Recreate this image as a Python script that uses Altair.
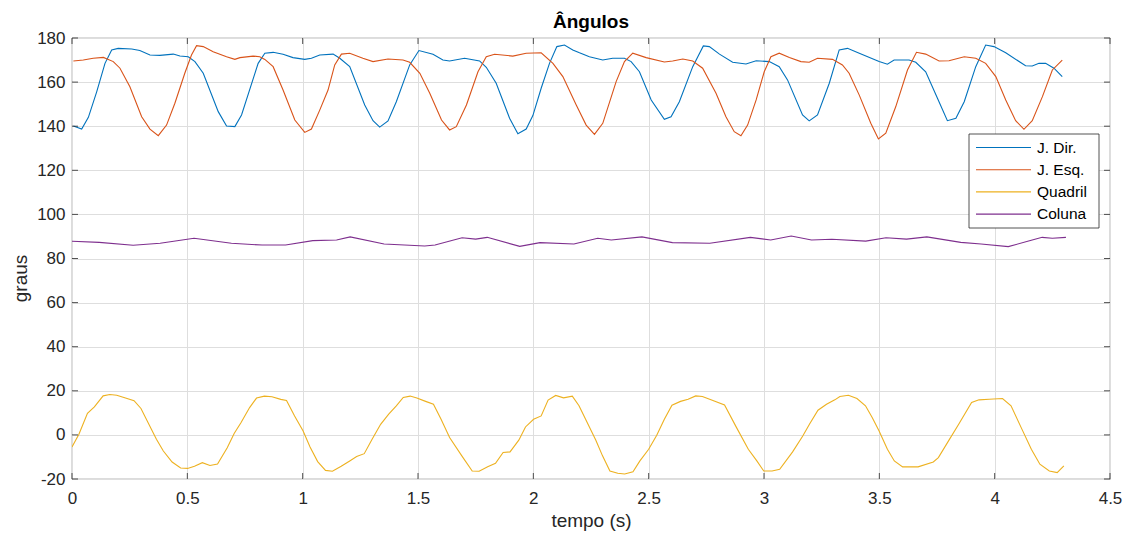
import altair as alt
import pandas as pd

series_names = ["J. Dir.", "J. Esq.", "Quadril", "Coluna"]
series_colors = ["#0072BD", "#D95319", "#EDB120", "#7E2F8E"]

t_dir = [0.006, 0.042, 0.071, 0.107, 0.143, 0.172, 0.2, 0.259, 0.294, 0.338,
         0.381, 0.439, 0.468, 0.504, 0.533, 0.569, 0.634, 0.670, 0.706, 0.735,
         0.807, 0.836, 0.872, 0.915, 0.958, 1.009, 1.038, 1.074, 1.132, 1.161,
         1.204, 1.269, 1.305, 1.334, 1.370, 1.406, 1.464, 1.504, 1.565, 1.608,
         1.637, 1.702, 1.767, 1.796, 1.839, 1.897, 1.933, 1.969, 1.998, 2.034,
         2.070, 2.102, 2.135, 2.171, 2.200, 2.243, 2.301, 2.344, 2.395, 2.424,
         2.460, 2.511, 2.568, 2.597, 2.633, 2.691, 2.737, 2.763, 2.807, 2.864,
         2.922, 2.966, 3.023, 3.066, 3.102, 3.167, 3.196, 3.232, 3.283, 3.326,
         3.362, 3.413, 3.499, 3.535, 3.564, 3.629, 3.658, 3.701, 3.752, 3.795,
         3.832, 3.868, 3.918, 3.961, 3.997, 4.048, 4.134, 4.163, 4.192, 4.221,
         4.257, 4.293]
v_dir = [140.1, 138.7, 144, 155.6, 168.5, 174.6, 175.3, 175, 174.3, 172.3,
         172.1, 172.7, 171.8, 171.5, 169.3, 164, 146.6, 140.1, 139.8, 145.1,
         168.5, 173.1, 173.5, 172.6, 171.1, 170.3, 170.8, 172.3, 172.7, 170.8,
         167, 149.6, 142.5, 139.6, 142.4, 151.1, 167.8, 174.3, 172.6, 170,
         169.6, 170.8, 169.6, 166.7, 159.5, 143.6, 136.6, 138.7, 144.8, 157.2,
         168.5, 176.1, 176.8, 174.6, 173.3, 171.5, 170, 170.8, 170.8, 169.3,
         164.7, 151.9, 143.1, 144.3, 151.1, 167, 176.4, 176.1, 172.7, 169,
         168.2, 169.7, 169.3, 167, 161, 145.1, 142.4, 145.1, 159.5, 174.6,
         175.3, 173.1, 169.3, 168.1, 170, 170, 169, 164.7, 152.7, 142.5,
         143.6, 151.1, 167, 176.8, 176.1, 173.3, 167.4, 167.3, 168.5, 168.5,
         166.3, 162.5]

t_esq = [0.006, 0.049, 0.092, 0.136, 0.179, 0.208, 0.251, 0.302, 0.338, 0.374,
         0.410, 0.446, 0.489, 0.518, 0.540, 0.569, 0.612, 0.670, 0.706, 0.728,
         0.785, 0.814, 0.836, 0.872, 0.915, 0.966, 1.009, 1.038, 1.074, 1.110,
         1.139, 1.168, 1.204, 1.261, 1.305, 1.370, 1.435, 1.464, 1.508, 1.551,
         1.602, 1.637, 1.666, 1.710, 1.760, 1.796, 1.832, 1.911, 1.969, 2.034,
         2.085, 2.128, 2.186, 2.229, 2.265, 2.301, 2.359, 2.395, 2.431, 2.489,
         2.568, 2.604, 2.648, 2.691, 2.734, 2.792, 2.835, 2.871, 2.900, 2.929,
         2.966, 3.001, 3.030, 3.066, 3.110, 3.160, 3.196, 3.232, 3.297, 3.340,
         3.369, 3.413, 3.463, 3.496, 3.528, 3.571, 3.622, 3.661, 3.701, 3.759,
         3.802, 3.868, 3.918, 3.961, 4.005, 4.048, 4.091, 4.127, 4.163, 4.207,
         4.250, 4.293]
v_esq = [169.6, 170, 170.8, 171.2, 169.3, 166.3, 157.9, 144.3, 138.7, 135.7,
         140.5, 150.4, 164, 172.3, 176.5, 176.1, 173.8, 171.5, 170.3, 171.1,
         171.8, 171.5, 170.3, 167, 156.4, 142.8, 137.2, 138.7, 147.3, 156.4,
         167.8, 172.7, 173.1, 170.8, 169.3, 170.5, 170, 169, 164, 154.9,
         142.8, 138.3, 139.8, 149.6, 164.7, 171.5, 172.6, 171.8, 173.1, 173.3,
         168.5, 162.5, 149.6, 140.5, 136.3, 141.3, 160.2, 169.3, 173.1, 171.1,
         169.1, 169.6, 170.5, 169.6, 166.3, 154.9, 144.3, 137.5, 135.7, 140.5,
         151.9, 164.7, 171.5, 173.1, 171.2, 169.3, 169, 170.8, 170.3, 167.8,
         164, 154.1, 141.3, 134.2, 136.8, 148.8, 165.5, 173.5, 172.7, 169.6,
         169.7, 171.5, 170.8, 168.5, 162.5, 151.9, 142.5, 138.6, 142.5, 153.4,
         165.5, 170]

t_quad = [0, 0.03, 0.067, 0.097, 0.135, 0.164, 0.194, 0.232, 0.269, 0.299,
          0.366, 0.396, 0.434, 0.471, 0.501, 0.531, 0.565, 0.598, 0.631, 0.673,
          0.703, 0.733, 0.770, 0.800, 0.834, 0.867, 0.905, 0.930, 0.965, 1.002,
          1.032, 1.065, 1.099, 1.129, 1.167, 1.204, 1.234, 1.267, 1.301, 1.338,
          1.373, 1.406, 1.436, 1.466, 1.495, 1.533, 1.567, 1.600, 1.637, 1.690,
          1.735, 1.765, 1.802, 1.836, 1.869, 1.899, 1.937, 1.966, 2.001, 2.034,
          2.064, 2.097, 2.131, 2.169, 2.198, 2.243, 2.271, 2.300, 2.332, 2.366,
          2.396, 2.432, 2.462, 2.500, 2.535, 2.568, 2.601, 2.638, 2.671, 2.704,
          2.733, 2.770, 2.829, 2.881, 2.932, 2.969, 2.999, 3.035, 3.068, 3.124,
          3.168, 3.197, 3.234, 3.271, 3.307, 3.329, 3.366, 3.403, 3.440, 3.469,
          3.499, 3.535, 3.565, 3.601, 3.668, 3.734, 3.756, 3.800, 3.844, 3.900,
          3.932, 3.976, 4.034, 4.071, 4.115, 4.159, 4.196, 4.237, 4.271, 4.300]
v_quad = [-5.5, 0.3, 9.8, 12.7, 17.7, 18.3, 18, 16.7, 15.5, 12,
          -2, -7.3, -12.3, -15, -15.2, -14.2, -12.6, -13.9, -13.2, -5.8,
          0.6, 5.6, 12.4, 16.7, 17.6, 17.3, 16.1, 15.6, 8.6, 1.8,
          -5.5, -12.1, -16.1, -16.5, -14.2, -11.8, -9.8, -8.5, -2, 4.8,
          9.4, 13.2, 17, 17.6, 16.7, 15.2, 13.9, 7.1, -1.2, -9.5,
          -16.4, -16.5, -14.4, -12.9, -8, -7.7, -2.4, 3.6, 7.1, 8.6,
          15.8, 17.9, 16.8, 17.6, 13.2, 3.6, -2.4, -9.5, -16.4, -17.4,
          -17.7, -16.7, -11.8, -6.5, -0.2, 7.1, 13.5, 15.2, 16.2, 17.7,
          17.4, 15.9, 13.6, 3.3, -6.5, -11.8, -16.4, -16.4, -15.6, -7.7,
          -0.5, 4.8, 11.2, 13.9, 15.9, 17.4, 18, 16.5, 13.2, 7.9,
          1.8, -6.5, -11.8, -14.5, -14.5, -12.3, -10.3, -2.7, 4.8, 14.7,
          15.9, 16.2, 16.5, 13.2, 3.3, -6.5, -13.3, -16.4, -17.1, -14]

t_col = [0, 0.118, 0.265, 0.382, 0.529, 0.691, 0.824, 0.926, 1.044, 1.147,
         1.206, 1.353, 1.529, 1.574, 1.691, 1.750, 1.8, 1.941, 2.029, 2.176,
         2.279, 2.338, 2.471, 2.603, 2.765, 2.941, 3.029, 3.118, 3.206, 3.294,
         3.441, 3.529, 3.618, 3.706, 3.853, 3.941, 4.059, 4.147, 4.206, 4.25,
         4.309]
v_col = [87.8, 87.3, 86, 86.9, 89.2, 86.9, 86.1, 86.1, 88.1, 88.4,
         89.8, 86.6, 85.7, 86.1, 89.4, 88.8, 89.6, 85.5, 87.2, 86.6,
         89.2, 88.4, 89.8, 87.2, 86.9, 89.6, 88.4, 90.2, 88.4, 88.7,
         87.9, 89.4, 88.8, 89.8, 87.3, 86.6, 85.4, 87.9, 89.6, 89.2,
         89.6]

x_ticks = [0, 0.5, 1, 1.5, 2, 2.5, 3, 3.5, 4, 4.5]
y_ticks = [-20, 0, 20, 40, 60, 80, 100, 120, 140, 160, 180]

rows = []
for name, ts, vs in zip(series_names, [t_dir, t_esq, t_quad, t_col],
                        [v_dir, v_esq, v_quad, v_col]):
    for t, v in zip(ts, vs):
        rows.append({"serie": name, "tempo": t, "graus": v})
df = pd.DataFrame(rows)

W, H = 1038, 441
FONT = "Liberation Sans"
INK = "#262626"

xscale = alt.Scale(domain=[0, 4.5], nice=False, zero=False)
yscale = alt.Scale(domain=[-20, 180], nice=False, zero=False)
xaxis = alt.Axis(values=x_ticks, title="tempo (s)", grid=True, ticks=False,
                 domain=False, labelPadding=11, labelFontSize=17, labelFlush=False,
                 titleFontSize=19, titlePadding=5, titleFontWeight="normal",
                 labelExpr="toString(datum.value)")
yaxis = alt.Axis(values=y_ticks, title="graus", grid=True, ticks=False,
                 domain=False, labelPadding=7, labelFontSize=17, labelFlush=False,
                 titleFontSize=19, titlePadding=6, titleFontWeight="normal",
                 titleY=240, labelExpr="toString(datum.value)")
cscale = alt.Scale(domain=series_names, range=series_colors)

lines = alt.Chart(df).mark_line(strokeWidth=1.1, clip=True).encode(
    x=alt.X("tempo:Q", scale=xscale, axis=xaxis),
    y=alt.Y("graus:Q", scale=yscale, axis=yaxis),
    color=alt.Color("serie:N", scale=cscale, legend=None),
)

xt = pd.DataFrame({"tempo": x_ticks})
yt = pd.DataFrame({"graus": y_ticks})
tick_style = dict(color=INK, strokeWidth=0.8)
tb = alt.Chart(xt).mark_rule(**tick_style).encode(
    x=alt.X("tempo:Q", scale=xscale, axis=xaxis), y=alt.value(H), y2=alt.value(H - 6))
tt = alt.Chart(xt).mark_rule(**tick_style).encode(
    x=alt.X("tempo:Q", scale=xscale, axis=xaxis), y=alt.value(0), y2=alt.value(6))
tl = alt.Chart(yt).mark_rule(**tick_style).encode(
    y=alt.Y("graus:Q", scale=yscale, axis=yaxis), x=alt.value(0), x2=alt.value(6))
tr = alt.Chart(yt).mark_rule(**tick_style).encode(
    y=alt.Y("graus:Q", scale=yscale, axis=yaxis), x=alt.value(W), x2=alt.value(W - 6))

# legend (drawn inside the plot, MATLAB style)
one = pd.DataFrame({"a": [0]})
legend_layers = [
    alt.Chart(one).mark_rect(fill="white", stroke=INK, strokeWidth=0.8).encode(
        x=alt.value(897), x2=alt.value(1027), y=alt.value(96), y2=alt.value(190))
]
for i, (name, col) in enumerate(zip(series_names, series_colors)):
    ly = 109.5 + 22.2 * i
    legend_layers.append(
        alt.Chart(one).mark_rule(color=col, strokeWidth=1.1).encode(
            x=alt.value(904), x2=alt.value(959), y=alt.value(ly)))
    legend_layers.append(
        alt.Chart(one).mark_text(align="left", baseline="middle", fontSize=15.5,
                                 font=FONT, color="#000000", text=name).encode(
            x=alt.value(965), y=alt.value(ly)))

chart = alt.layer(lines, tb, tt, tl, tr, *legend_layers).properties(
    width=W, height=H,
    title=alt.TitleParams("Ângulos", fontSize=19, fontWeight="bold", font=FONT,
                          color="#000000", anchor="middle", baseline="alphabetic",
                          offset=9, dy=27),
    padding={"left": 72, "top": 38, "right": 18, "bottom": 58},
    autosize=alt.AutoSizeParams(type="none"),
    background="white",
).configure_view(
    stroke=INK, strokeWidth=0.8
).configure_axis(
    labelFont=FONT, titleFont=FONT, labelColor=INK, titleColor=INK,
    gridColor="#dedede", gridWidth=1, gridOpacity=1,
)

chart.save("out.html", embed_options={"renderer": "svg", "actions": False})
